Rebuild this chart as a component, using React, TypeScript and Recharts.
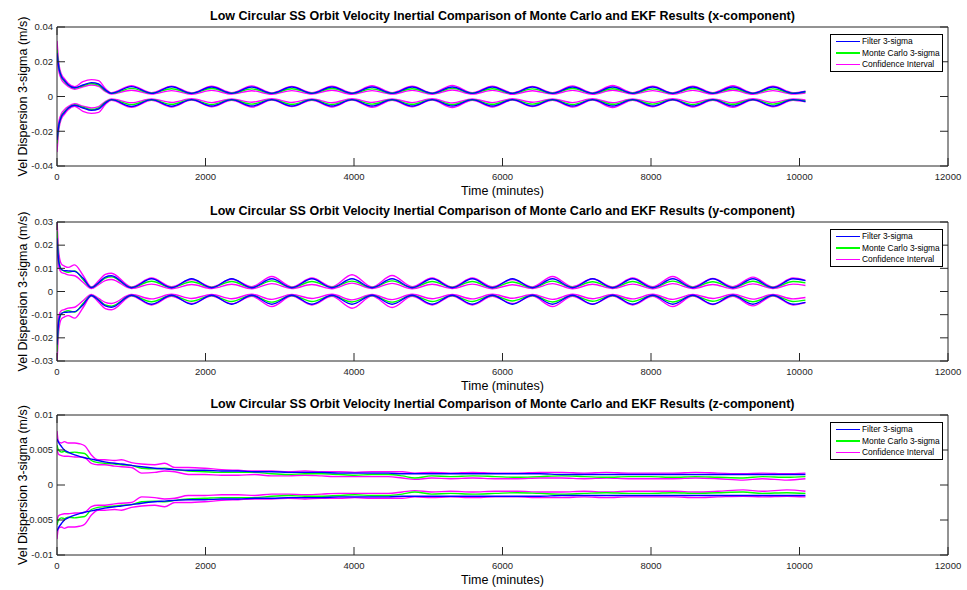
import React from "react";
import { LineChart, Line, XAxis, YAxis, Legend } from "recharts";

// time grid (minutes) shared by the x and y components
const timeXY = [
  0, 25, 60, 100, 150, 238, 350, 463, 560, 650, 733,
  1003, 1273, 1543, 1813, 2083, 2353, 2623, 2893, 3163, 3433,
  3703, 3973, 4243, 4513, 4783, 5053, 5323, 5593, 5863, 6133,
  6403, 6673, 6943, 7213, 7483, 7753, 8023, 8293, 8563, 8833,
  9103, 9373, 9643, 9913, 10080,
];

// x-component, upper (+) side; the lower side is the mirror (-)
const xFilter = [
  0.025, 0.0165, 0.0115, 0.0092, 0.0068, 0.005, 0.0066, 0.008, 0.0072, 0.0038, 0.0018,
  0.0057, 0.0018, 0.0056, 0.0018, 0.0055, 0.0018, 0.0055, 0.0018, 0.0055, 0.0018,
  0.0055, 0.0018, 0.0055, 0.0018, 0.0055, 0.0018, 0.0055, 0.0018, 0.0055, 0.0018,
  0.0055, 0.0018, 0.0055, 0.0018, 0.0055, 0.0018, 0.0055, 0.0018, 0.0055, 0.0018,
  0.0055, 0.0018, 0.0055, 0.0018, 0.0029,
];
const xMonteCarlo = [
  0.027, 0.017, 0.0112, 0.0088, 0.0066, 0.0049, 0.0062, 0.0075, 0.0066, 0.0034, 0.0018,
  0.0047, 0.0019, 0.0045, 0.0018, 0.0046, 0.0019, 0.0044, 0.0018, 0.0045, 0.0019,
  0.0046, 0.0018, 0.0044, 0.0019, 0.0045, 0.0018, 0.0047, 0.0019, 0.0045, 0.0018,
  0.0044, 0.0019, 0.0046, 0.0018, 0.0045, 0.0019, 0.0044, 0.0018, 0.0046, 0.0019,
  0.0045, 0.0018, 0.0044, 0.0019, 0.0026,
];
const xCiHigh = [
  0.032, 0.019, 0.0128, 0.0102, 0.0076, 0.0056, 0.0085, 0.0097, 0.0091, 0.0046, 0.0022,
  0.0062, 0.0022, 0.006, 0.0021, 0.0059, 0.0022, 0.0061, 0.0021, 0.0058, 0.0022,
  0.006, 0.0021, 0.0062, 0.0022, 0.0059, 0.0021, 0.0064, 0.0022, 0.006, 0.0021,
  0.0058, 0.0022, 0.0061, 0.0021, 0.0063, 0.0022, 0.0059, 0.0021, 0.006, 0.0022,
  0.0062, 0.0021, 0.0059, 0.0022, 0.0031,
];
const xCiLow = [
  0.022, 0.0145, 0.0098, 0.0076, 0.0058, 0.0042, 0.0056, 0.0066, 0.0058, 0.0029, 0.0014,
  0.0036, 0.0014, 0.0034, 0.0013, 0.0035, 0.0014, 0.0033, 0.0013, 0.0034, 0.0014,
  0.0036, 0.0013, 0.0034, 0.0014, 0.0035, 0.0013, 0.0037, 0.0014, 0.0035, 0.0013,
  0.0033, 0.0014, 0.0035, 0.0013, 0.0036, 0.0014, 0.0034, 0.0013, 0.0035, 0.0014,
  0.0036, 0.0013, 0.0034, 0.0014, 0.002,
];

// y-component
const yFilter = [
  0.023, 0.0125, 0.0095, 0.009, 0.0089, 0.0087, 0.0058, 0.0017, 0.0038, 0.0062, 0.0068,
  0.0016, 0.0055, 0.0016, 0.0055, 0.0016, 0.0055, 0.0016, 0.0055, 0.0016, 0.0055,
  0.0016, 0.0055, 0.0016, 0.0055, 0.0016, 0.0055, 0.0016, 0.0055, 0.0016, 0.0055,
  0.0016, 0.0055, 0.0016, 0.0055, 0.0016, 0.0055, 0.0016, 0.0055, 0.0016, 0.0055,
  0.0016, 0.0055, 0.0016, 0.0055, 0.0047,
];
const yMonteCarlo = [
  0.026, 0.0135, 0.0095, 0.0088, 0.0083, 0.0089, 0.0052, 0.0017, 0.0036, 0.0058, 0.0063,
  0.0017, 0.0044, 0.0017, 0.0042, 0.0018, 0.0043, 0.0017, 0.0046, 0.0017, 0.0043,
  0.0018, 0.0045, 0.0017, 0.0046, 0.0017, 0.0043, 0.0018, 0.0043, 0.0017, 0.0041,
  0.0017, 0.0045, 0.0018, 0.0042, 0.0017, 0.0043, 0.0017, 0.0045, 0.0018, 0.0042,
  0.0017, 0.0044, 0.0017, 0.0043, 0.0037,
];
const yCiHigh = [
  0.031, 0.0165, 0.0118, 0.011, 0.0104, 0.0115, 0.007, 0.002, 0.0046, 0.0074, 0.0079,
  0.002, 0.0058, 0.0021, 0.0052, 0.002, 0.0053, 0.0021, 0.0065, 0.002, 0.0058,
  0.0021, 0.0072, 0.002, 0.0069, 0.0021, 0.0058, 0.002, 0.0058, 0.0021, 0.0052,
  0.002, 0.0065, 0.0021, 0.0055, 0.002, 0.0058, 0.0021, 0.0065, 0.002, 0.0056,
  0.0021, 0.0062, 0.002, 0.0058, 0.0048,
];
const yCiLow = [
  0.02, 0.0105, 0.0082, 0.0078, 0.0072, 0.0068, 0.004, 0.0013, 0.003, 0.0047, 0.0052,
  0.0013, 0.0032, 0.0012, 0.003, 0.0013, 0.0031, 0.0012, 0.0034, 0.0013, 0.003,
  0.0012, 0.0036, 0.0013, 0.0035, 0.0012, 0.0031, 0.0013, 0.0032, 0.0012, 0.0029,
  0.0013, 0.0034, 0.0012, 0.0031, 0.0013, 0.0032, 0.0012, 0.0034, 0.0013, 0.003,
  0.0012, 0.0033, 0.0013, 0.0032, 0.0026,
];

// z-component has its own grid
const timeZ = [
  0, 20, 60, 100, 150, 238, 300, 373, 463, 550,
  643, 777, 868, 1003, 1140, 1317, 1450, 1587, 1767, 1990,
  2216, 2440, 2665, 2890, 3114, 3340, 3563, 3790, 4012, 4240,
  4462, 4650, 4820, 5046, 5300, 5600, 5900, 6200, 6500, 6800,
  7100, 7400, 7700, 8000, 8300, 8600, 8900, 9240, 9500, 9830,
  10080,
];
const zFilter = [
  0.0066, 0.0061, 0.0055, 0.005, 0.0047, 0.0043, 0.0041, 0.0039, 0.0037, 0.0035,
  0.0033, 0.0031, 0.003, 0.0028, 0.0026, 0.0024, 0.0023, 0.0022, 0.0021, 0.0021,
  0.002, 0.002, 0.0019, 0.0019, 0.0018, 0.0018, 0.0018, 0.0017, 0.0017, 0.0017,
  0.0017, 0.0016, 0.0016, 0.0016, 0.0016, 0.0016, 0.0016, 0.0016, 0.0016, 0.0015,
  0.0015, 0.0015, 0.0015, 0.0015, 0.0015, 0.0015, 0.0015, 0.0015, 0.0015, 0.0015,
  0.0015,
];
const zMonteCarlo = [
  0.0057, 0.005, 0.0047, 0.0048, 0.0046, 0.0047, 0.0046, 0.0045, 0.0035, 0.0032,
  0.0031, 0.003, 0.0029, 0.0028, 0.0024, 0.0023, 0.0024, 0.0022, 0.002, 0.0019,
  0.0018, 0.0018, 0.0018, 0.0016, 0.0015, 0.0016, 0.0016, 0.0015, 0.0014, 0.0015,
  0.0015, 0.0013, 0.001, 0.0013, 0.0012, 0.0013, 0.0012, 0.0011, 0.0012, 0.0013,
  0.0012, 0.0011, 0.0012, 0.0012, 0.0011, 0.0012, 0.0011, 0.001, 0.0012, 0.0011,
  0.0012,
];
const zCiHigh = [
  0.0077, 0.0062, 0.006, 0.0062, 0.006, 0.006, 0.0059, 0.0056, 0.0043, 0.0036,
  0.0036, 0.0035, 0.0036, 0.0032, 0.003, 0.0029, 0.0031, 0.0025, 0.0025, 0.0024,
  0.0022, 0.0021, 0.002, 0.002, 0.0019, 0.002, 0.0019, 0.0019, 0.0018, 0.0019,
  0.0019, 0.0019, 0.0017, 0.0018, 0.0017, 0.0018, 0.0017, 0.0017, 0.0018, 0.0018,
  0.0017, 0.0018, 0.0017, 0.0017, 0.0017, 0.0018, 0.0017, 0.0016, 0.0017, 0.0016,
  0.0017,
];
const zCiLow = [
  0.0052, 0.0044, 0.0042, 0.0041, 0.0041, 0.004, 0.004, 0.0039, 0.0031, 0.0029,
  0.0029, 0.0027, 0.0026, 0.0025, 0.0017, 0.0018, 0.002, 0.0019, 0.0015, 0.0015,
  0.0014, 0.0014, 0.0015, 0.0013, 0.0013, 0.0014, 0.0013, 0.0012, 0.0012, 0.0012,
  0.0012, 0.001, 0.0008, 0.001, 0.0009, 0.001, 0.0009, 0.0009, 0.001, 0.001,
  0.0009, 0.001, 0.0009, 0.0009, 0.0009, 0.001, 0.0009, 0.0007, 0.0009, 0.0007,
  0.0009,
];

const timeTicks = [0, 2000, 4000, 6000, 8000, 10000, 12000];
const xTicks = [-0.04, -0.02, 0, 0.02, 0.04];
const yTicks = [-0.03, -0.02, -0.01, 0, 0.01, 0.02, 0.03];
const zTicks = [-0.01, -0.005, 0, 0.005, 0.01];

const seriesNames = ["Filter 3-sigma", "Monte Carlo 3-sigma", "Confidence Interval"];
const seriesColors = ["#0000ff", "#00ff00", "#ff00ff"];

const AXIS = "#262626";
const FONT = '"Liberation Sans", Arial, Helvetica, sans-serif';
const TICK_LEN = 8;

function buildRows(time: number[], filter: number[], mc: number[], ciHigh: number[], ciLow: number[]) {
  return time.map((t, i) => ({
    t,
    fUp: filter[i],
    fDn: -filter[i],
    mUp: mc[i],
    mDn: -mc[i],
    cUpHi: ciHigh[i],
    cUpLo: ciLow[i],
    cDnHi: -ciLow[i],
    cDnLo: -ciHigh[i],
  }));
}

// MATLAB-style inward ticks: the tick callbacks get the axis position (tickSize 0, tickMargin 0)
function BottomTick(props: any) {
  const { x, y, payload } = props;
  return (
    <g>
      <line x1={x} x2={x} y1={y} y2={y - TICK_LEN} stroke={AXIS} />
      <text x={x} y={y + 14.3} textAnchor="middle" fontSize={9.5} fill={AXIS}>
        {payload.value}
      </text>
    </g>
  );
}
function TopTick(props: any) {
  const { x, y } = props;
  return <line x1={x} x2={x} y1={y} y2={y + TICK_LEN} stroke={AXIS} />;
}
function LeftTick(props: any) {
  const { x, y, payload } = props;
  return (
    <g>
      <line x1={x} x2={x + TICK_LEN} y1={y} y2={y} stroke={AXIS} />
      <text x={x - 4} y={y} dy="0.35em" textAnchor="end" fontSize={9.5} fill={AXIS}>
        {String(payload.value)}
      </text>
    </g>
  );
}
function RightTick(props: any) {
  const { x, y } = props;
  return <line x1={x} x2={x - TICK_LEN} y1={y} y2={y} stroke={AXIS} />;
}

function LegendBox() {
  return (
    <div
      style={{
        width: 111,
        border: "1px solid #000",
        background: "#fff",
        padding: "1px 0",
        fontFamily: FONT,
        fontSize: 8.4,
        color: "#000",
      }}
    >
      {seriesNames.map((name, i) => (
        <div key={name} style={{ display: "flex", alignItems: "center", height: 11.5, whiteSpace: "nowrap" }}>
          <div style={{ width: 24, height: 1.5, background: seriesColors[i], margin: "0 2px 0 5px", flex: "none" }} />
          <span>{name}</span>
        </div>
      ))}
    </div>
  );
}

type PanelProps = {
  rows: ReturnType<typeof buildRows>;
  domain: [number, number];
  ticks: number[];
  height: number;
  marginTop: number;
};

function Panel({ rows, domain, ticks, height, marginTop }: PanelProps) {
  const lineProps = {
    type: "monotone" as const,
    dot: false,
    activeDot: false,
    strokeWidth: 1.4,
    isAnimationActive: false,
    legendType: "none" as const,
  };
  return (
    <LineChart
      width={967}
      height={height}
      data={rows}
      margin={{ top: marginTop, right: 18, bottom: 6, left: 0 }}
    >
      <XAxis
        dataKey="t"
        type="number"
        domain={[0, 12000]}
        ticks={timeTicks}
        allowDataOverflow
        interval={0}
        height={29}
        tickSize={0}
        tickMargin={0}
        tick={<BottomTick />}
        tickLine={false}
        axisLine={{ stroke: AXIS }}
        label={{ value: "Time (minutes)", position: "insideBottom", offset: 0, fontSize: 12.5, fill: "#000" }}
      />
      <XAxis
        xAxisId="top"
        orientation="top"
        type="number"
        domain={[0, 12000]}
        ticks={timeTicks}
        allowDataOverflow
        interval={0}
        height={1}
        tickSize={0}
        tickMargin={0}
        tick={<TopTick />}
        tickLine={false}
        axisLine={{ stroke: AXIS }}
      />
      <YAxis
        type="number"
        domain={domain}
        ticks={ticks}
        allowDataOverflow
        interval={0}
        width={57}
        tickSize={0}
        tickMargin={0}
        tick={<LeftTick />}
        tickLine={false}
        axisLine={{ stroke: AXIS }}
        label={{
          value: "Vel Dispersion 3-sigma (m/s)",
          angle: -90,
          position: "insideLeft",
          offset: 23,
          fontSize: 12.5,
          fill: "#000",
          style: { textAnchor: "middle" },
        }}
      />
      <YAxis
        yAxisId="right"
        orientation="right"
        type="number"
        domain={domain}
        ticks={ticks}
        allowDataOverflow
        interval={0}
        width={1}
        tickSize={0}
        tickMargin={0}
        tick={<RightTick />}
        tickLine={false}
        axisLine={{ stroke: AXIS }}
      />
      <Legend
        layout="vertical"
        align="center"
        verticalAlign="middle"
        wrapperStyle={{ left: 830, top: marginTop + 7.5, width: "auto", height: "auto" }}
        content={() => <LegendBox />}
      />
      <Line dataKey="cUpHi" stroke={seriesColors[2]} {...lineProps} />
      <Line dataKey="cUpLo" stroke={seriesColors[2]} {...lineProps} />
      <Line dataKey="cDnHi" stroke={seriesColors[2]} {...lineProps} />
      <Line dataKey="cDnLo" stroke={seriesColors[2]} {...lineProps} />
      <Line dataKey="mUp" stroke={seriesColors[1]} {...lineProps} />
      <Line dataKey="mDn" stroke={seriesColors[1]} {...lineProps} />
      <Line dataKey="fUp" stroke={seriesColors[0]} {...lineProps} />
      <Line dataKey="fDn" stroke={seriesColors[0]} {...lineProps} />
    </LineChart>
  );
}

const titleBase = "Low Circular SS Orbit Velocity Inertial Comparison of Monte Carlo and EKF Results";

export default function App() {
  const panels = [
    {
      title: `${titleBase} (x-component)`,
      rows: buildRows(timeXY, xFilter, xMonteCarlo, xCiHigh, xCiLow),
      domain: [-0.04, 0.04] as [number, number],
      ticks: xTicks,
      top: 0,
      height: 201,
      marginTop: 26,
    },
    {
      title: `${titleBase} (y-component)`,
      rows: buildRows(timeXY, yFilter, yMonteCarlo, yCiHigh, yCiLow),
      domain: [-0.03, 0.03] as [number, number],
      ticks: yTicks,
      top: 195,
      height: 201,
      marginTop: 26,
    },
    {
      title: `${titleBase} (z-component)`,
      rows: buildRows(timeZ, zFilter, zMonteCarlo, zCiHigh, zCiLow),
      domain: [-0.01, 0.01] as [number, number],
      ticks: zTicks,
      top: 389,
      height: 201,
      marginTop: 25,
    },
  ];

  return (
    <div
      style={{
        position: "absolute",
        left: 0,
        top: 0,
        width: 967,
        height: 590,
        background: "#fff",
        fontFamily: FONT,
      }}
    >
      {panels.map((p) => (
        <div key={p.title} style={{ position: "absolute", left: 0, top: p.top }}>
          <div
            style={{
              position: "absolute",
              left: 57,
              width: 891,
              top: p.marginTop + 1 - 7 - 11.3,
              lineHeight: "14px",
              fontSize: 12.5,
              fontWeight: "bold",
              textAlign: "center",
              whiteSpace: "nowrap",
              color: "#000",
            }}
          >
            {p.title}
          </div>
          <Panel rows={p.rows} domain={p.domain} ticks={p.ticks} height={p.height} marginTop={p.marginTop} />
        </div>
      ))}
    </div>
  );
}
